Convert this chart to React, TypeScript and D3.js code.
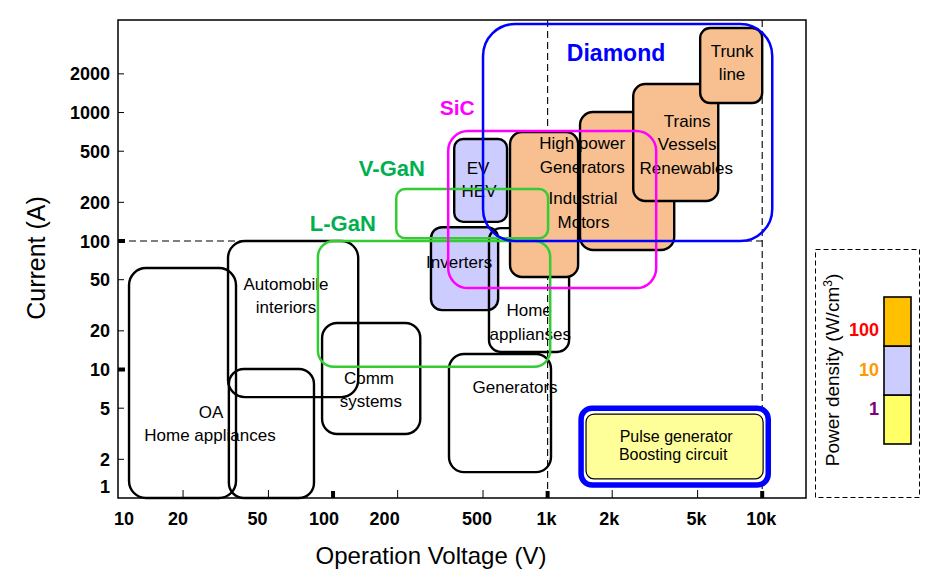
import React from "react";
import * as d3 from "d3";

// ---------- data ----------
const xTickValues = [10, 20, 50, 100, 200, 500, 1000, 2000, 5000, 10000];
const xTickLabels = ["10", "20", "50", "100", "200", "500", "1k", "2k", "5k", "10k"];
const xMajorTicks = [100, 1000, 10000];
const yTickValues = [1, 2, 5, 10, 20, 50, 100, 200, 500, 1000, 2000];
const yMajorTicks = [10, 100];
const dashedVoltages = [1000, 10000];
const dashedCurrent = 100;

// application boxes: voltage range (V), current range (A), power density class
const applications = [
  { id: "oa", v: [11.2, 35.3], i: [1, 61.6], density: "" },
  { id: "small", v: [32.7, 81.5], i: [1, 10.1], density: "" },
  { id: "auto", v: [32.4, 131], i: [6.1, 100], density: "" },
  { id: "comm", v: [88.9, 255], i: [3.15, 23], density: "" },
  { id: "gen", v: [347, 1037], i: [1.59, 13.2], density: "" },
  { id: "inv", v: [286, 588], i: [29, 128], density: "10" },
  { id: "home", v: [533, 1259], i: [13.7, 126], density: "" },
  { id: "ev", v: [367, 647], i: [141, 622], density: "10" },
  { id: "hp", v: [668, 1387], i: [52.5, 705], density: "100" },
  { id: "ind", v: [1416, 3890], i: [85.1, 1009], density: "100" },
  { id: "trains", v: [2506, 6240], i: [205, 1667], density: "100" },
  { id: "trunk", v: [5140, 10000], i: [1185, 4545], density: "100" },
];

const appLabels = [
  { text: "OA", v: 27, i: 4.67 },
  { text: "Home appliances", v: 26.7, i: 3.09 },
  { text: "Automobile", v: 60.4, i: 46.3 },
  { text: "interiors", v: 60.4, i: 30.6 },
  { text: "Comm", v: 147, i: 8.59 },
  { text: "systems", v: 150, i: 5.69 },
  { text: "Generators", v: 705, i: 7.31 },
  { text: "Home", v: 820, i: 29 },
  { text: "applianses", v: 830, i: 18.9 },
  { text: "Inverters", v: 387, i: 68.7 },
  { text: "EV", v: 474, i: 370 },
  { text: "HEV", v: 479, i: 245 },
  { text: "High power", v: 1449, i: 579 },
  { text: "Generators", v: 1449, i: 377 },
  { text: "Industrial", v: 1462, i: 216 },
  { text: "Motors", v: 1470, i: 141 },
  { text: "Trains", v: 4467, i: 859 },
  { text: "Vessels", v: 4467, i: 569 },
  { text: "Renewables", v: 4427, i: 370 },
  { text: "Trunk", v: 7240, i: 3010 },
  { text: "line", v: 7240, i: 1994 },
];

// material regions
const materials = [
  { id: "L-GaN", v: [85, 1028], i: [10.5, 100] },
  { id: "V-GaN", v: [197, 1005], i: [105, 254] },
  { id: "SiC", v: [344, 3206], i: [43, 718] },
  { id: "Diamond", v: [500, 11140], i: [100, 4885] },
];
const materialLabels = [
  { id: "L-GaN", v: 111, i: 138 },
  { id: "V-GaN", v: 188, i: 370 },
  { id: "SiC", v: 379, i: 1084 },
  { id: "Diamond", v: 2084, i: 2904 },
];

// pulse generator (diamond, low density)
const pulseOuter = { v: [1432, 10670], i: [1.26, 5.0] };
const pulseInner = { v: [1510, 10100], i: [1.41, 4.5] };
const pulseLabels = [
  { text: "Pulse generator", v: 3972, i: 3.04 },
  { text: "Boosting circuit", v: 3845, i: 2.2 },
];

// legend
const densityLevels = ["1", "10", "100"];

// ---------- styles ----------
const W = 943;
const H = 580;
const FONT = "'Liberation Sans', Arial, Helvetica, sans-serif";
const plot = { left: 118, right: 806, top: 20, bottom: 498 };
const xLabelDx = [5.5, -5, -11, -9, -13, -6, -1, -3, -1, -1];

const boxRadius: Record<string, number> = {
  oa: 17, small: 15, auto: 17, comm: 15, gen: 15, inv: 11, home: 12, ev: 9,
  hp: 12, ind: 13, trains: 12, trunk: 10,
};
const densityFill: Record<string, string> = { "": "none", "10": "#CCCCFF", "100": "#F8C090", "1": "#FFFF99" };
const materialStyle: Record<string, { stroke: string; label: string; r: number; size: number }> = {
  "L-GaN": { stroke: "#33CC33", label: "#00B050", r: 16, size: 22 },
  "V-GaN": { stroke: "#33CC33", label: "#00B050", r: 9, size: 22 },
  SiC: { stroke: "#FF00FF", label: "#FF00FF", r: 20, size: 21 },
  Diamond: { stroke: "#0000FF", label: "#0000FF", r: 32, size: 23 },
};
const legendFill = ["#FFFF66", "#CCCCFF", "#FFC000"];
const legendText = ["#800080", "#FF9900", "#FF0000"];

export default function App() {
  const x = d3.scaleLog().domain([9.95, 16000]).range([plot.left, plot.right]);
  const y = d3.scaleLog().domain([1, 5250]).range([plot.bottom, plot.top]);

  const rect = (v: number[], i: number[]) => ({
    x: x(v[0]),
    y: y(i[1]),
    w: x(v[1]) - x(v[0]),
    h: y(i[0]) - y(i[1]),
  });

  const legendBar = d3.scaleBand<string>().domain(densityLevels).range([444, 297]).paddingInner(0);
  const legendLabelY = d3.scalePoint<string>().domain(densityLevels).range([409, 330]);

  const po = rect(pulseOuter.v, pulseOuter.i);
  const pi = rect(pulseInner.v, pulseInner.i);

  return (
    <svg
      width={W}
      height={H}
      style={{ position: "absolute", left: 0, top: 0, background: "#fff" }}
      fontFamily={FONT}
    >
      <rect x={0} y={0} width={W} height={H} fill="#fff" />

      {/* dashed reference lines */}
      {dashedVoltages.map((v) => (
        <line key={"dv" + v} x1={x(v)} x2={x(v)} y1={plot.top} y2={plot.bottom}
          stroke="#000" strokeWidth={1.1} strokeDasharray="7,4" />
      ))}
      <line x1={plot.left} x2={x(10000)} y1={y(dashedCurrent)} y2={y(dashedCurrent)}
        stroke="#000" strokeWidth={1.1} strokeDasharray="7,4" />

      {/* application boxes */}
      {applications.map((a) => {
        const r = rect(a.v, a.i);
        return (
          <rect key={a.id} x={r.x} y={r.y} width={r.w} height={r.h}
            rx={boxRadius[a.id]} ry={boxRadius[a.id]}
            fill={densityFill[a.density]} stroke="#000" strokeWidth={2.4} />
        );
      })}

      {/* application labels */}
      {appLabels.map((l, k) => (
        <text key={"al" + k} x={x(l.v)} y={y(l.i)} dy="0.35em" textAnchor="middle"
          fontSize={17} fill="#000">{l.text}</text>
      ))}

      {/* material outlines */}
      {materials.map((m) => {
        const r = rect(m.v, m.i);
        const s = materialStyle[m.id];
        return (
          <rect key={m.id} x={r.x} y={r.y} width={r.w} height={r.h} rx={s.r} ry={s.r}
            fill="none" stroke={s.stroke} strokeWidth={2.5} />
        );
      })}
      {materialLabels.map((m) => {
        const s = materialStyle[m.id];
        return (
          <text key={"ml" + m.id} x={x(m.v)} y={y(m.i)} dy="0.35em" textAnchor="middle"
            fontSize={s.size} fontWeight="bold" fill={s.label}>{m.id}</text>
        );
      })}

      {/* pulse generator */}
      <rect x={po.x} y={po.y} width={po.w} height={po.h} rx={11} ry={11}
        fill="#fff" stroke="#0000FF" strokeWidth={5.5} />
      <rect x={pi.x} y={pi.y} width={pi.w} height={pi.h} rx={8} ry={8}
        fill={densityFill["1"]} stroke="#000" strokeWidth={1.2} />
      {pulseLabels.map((l, k) => (
        <text key={"pl" + k} x={x(l.v)} y={y(l.i)} dy="0.35em" textAnchor="middle"
          fontSize={16} fill="#000">{l.text}</text>
      ))}

      {/* frame */}
      <rect x={plot.left} y={plot.top} width={plot.right - plot.left} height={plot.bottom - plot.top}
        fill="none" stroke="#000" strokeWidth={1.5} />

      {/* x ticks */}
      {xTickValues.map((v, k) => {
        const major = xMajorTicks.includes(v);
        const px = x(v);
        return (
          <g key={"xt" + v}>
            {v !== 10 && (
              <line x1={px} x2={px} y1={plot.bottom} y2={plot.bottom - (major ? 7 : 8)}
                stroke="#000" strokeWidth={major ? 4 : 1} />
            )}
            <text x={px + xLabelDx[k]} y={plot.bottom + 27} textAnchor="middle"
              fontSize={18} fontWeight="bold" fill="#000">{xTickLabels[k]}</text>
          </g>
        );
      })}

      {/* y ticks */}
      {yTickValues.map((v) => {
        const major = yMajorTicks.includes(v);
        const py = y(v);
        return (
          <g key={"yt" + v}>
            {v !== 1 && (
              <line x1={plot.left} x2={plot.left + (major ? 7 : 6)} y1={py} y2={py}
                stroke="#000" strokeWidth={major ? 4 : 1} />
            )}
            <text x={plot.left - 8} y={Math.min(py, plot.bottom - 11)} dy="0.36em" textAnchor="end"
              fontSize={18} fontWeight="bold" fill="#000">{v}</text>
          </g>
        );
      })}

      {/* axis titles */}
      <text x={431} y={564} textAnchor="middle" fontSize={24} fill="#000">Operation Voltage (V)</text>
      <text transform="translate(45,258) rotate(-90)" textAnchor="middle" fontSize={25} fill="#000">
        Current (A)
      </text>

      {/* legend */}
      <rect x={815.5} y={249.5} width={104} height={248} fill="none" stroke="#000"
        strokeWidth={1} strokeDasharray="5,3" />
      {densityLevels.map((d, k) => (
        <rect key={"lg" + d} x={884} y={legendBar(d)} width={27} height={legendBar.bandwidth()}
          fill={legendFill[k]} stroke="#000" strokeWidth={1.6} />
      ))}
      {densityLevels.map((d, k) => (
        <text key={"lt" + d} x={879} y={legendLabelY(d)} dy="0.35em" textAnchor="end"
          fontSize={18} fontWeight="bold" fill={legendText[k]}>{d}</text>
      ))}
      <text transform="translate(839,370) rotate(-90)" textAnchor="middle" fontSize={19} fill="#000">
        Power density (W/cm<tspan baselineShift="super" fontSize={12}>3</tspan>)
      </text>
    </svg>
  );
}
